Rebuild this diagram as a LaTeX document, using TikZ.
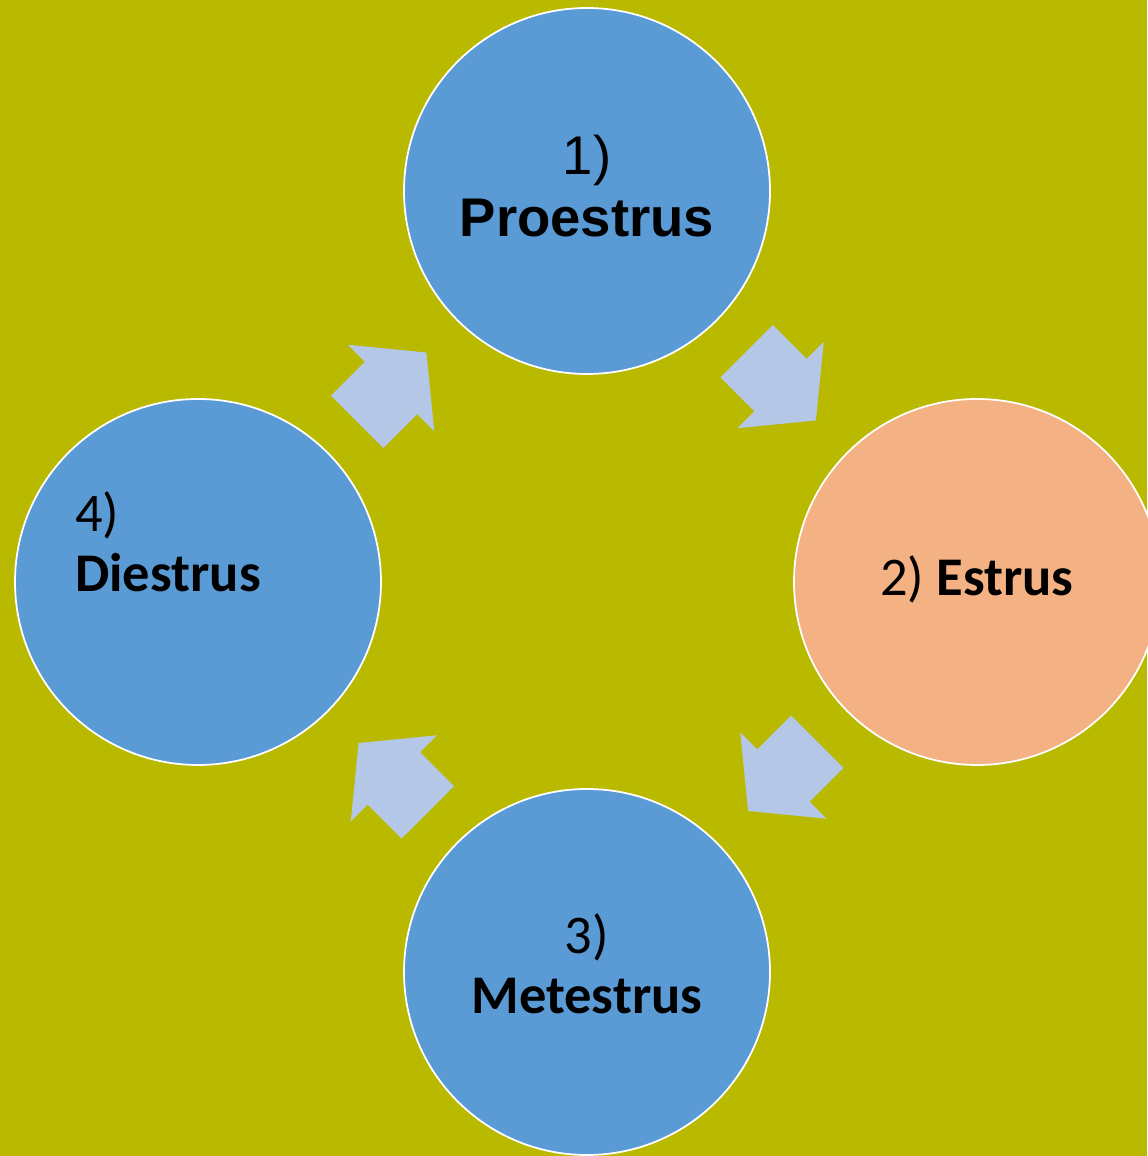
\documentclass[tikz,border=0pt]{standalone}
\usepackage{fontspec}
\setmainfont{Carlito}
\newfontfamily\arialfont{Liberation Sans}
\usetikzlibrary{calc}
\definecolor{olivebg}{RGB}{185,185,0}
\definecolor{phaseblue}{RGB}{91,155,213}
\definecolor{phasepeach}{RGB}{244,177,131}
\definecolor{arrowblue}{RGB}{180,199,231}

\begin{document}
\begin{tikzpicture}
  [phase/.style={circle,draw=white,line width=1pt,fill=phaseblue,minimum size=7.32cm,inner sep=0pt},
   lbl/.style={align=center,font=\fontsize{31}{34}\selectfont,inner sep=0pt},
   cyclearrow/.style={fill=arrowblue}]
  \fill[olivebg] (0,0) rectangle (22.94,23.12);
  \useasboundingbox (0,0) rectangle (22.94,23.12);
  \node[phase] (proestrus) at (11.74,19.30) {};
  \node[phase,fill=phasepeach] (estrus) at (19.54,11.48) {};
  \node[phase] (metestrus) at (11.74,3.68) {};
  \node[phase] (diestrus) at (3.96,11.48) {};
  \node[lbl,font=\arialfont\fontsize{31}{35}\selectfont] (t1) at ([yshift=0.1cm]proestrus.center) {1)\\\textbf{Proestrus}};
  \node[lbl] (t2) at ([yshift=0.06cm]estrus.center) {2) \textbf{Estrus}};
  \node[lbl] (t3) at ([yshift=0.16cm]metestrus.center) {3)\\\textbf{Metestrus}};
  \node[lbl,align=left] (t4) at ([xshift=-0.6cm,yshift=0.8cm]diestrus.center) {4)\\\textbf{Diestrus}};
\foreach \from/\to/\ang in
{proestrus/estrus/-45, estrus/metestrus/-135, metestrus/diestrus/135, diestrus/proestrus/45}
    \fill[cyclearrow,shift={($(\from)!0.5!(\to)$)},rotate=\ang]
      (-1.0,0.74) -- (-0.04,0.74) -- (-0.04,1.22) -- (0.96,0)
      -- (-0.04,-1.22) -- (-0.04,-0.74) -- (-1.0,-0.74) -- cycle;

\end{tikzpicture}
\end{document}
